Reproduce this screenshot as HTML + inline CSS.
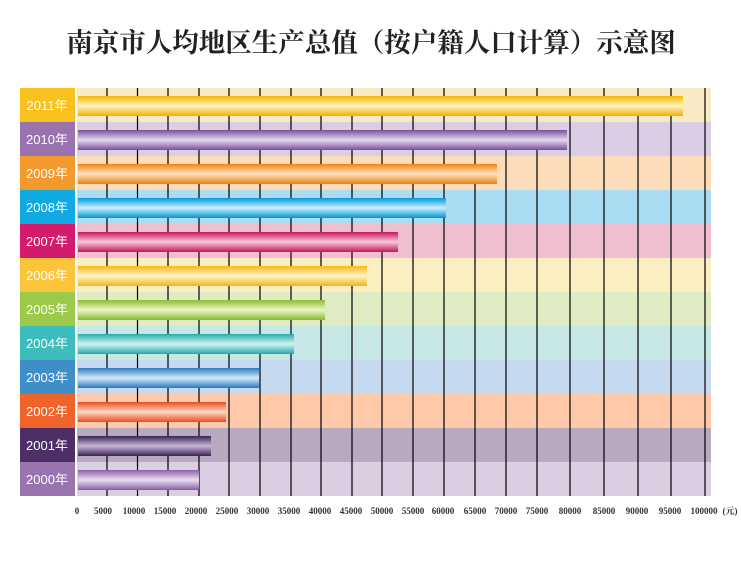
<!DOCTYPE html>
<html><head><meta charset="utf-8"><style>
body{margin:0;background:#fff;width:741px;height:583px;overflow:hidden}
</style></head><body>
<svg width="741" height="583" xmlns="http://www.w3.org/2000/svg">
<defs>
<linearGradient id="g0" x1="0" y1="0" x2="0" y2="1"><stop offset="0" stop-color="#f5b800"/><stop offset="0.5" stop-color="#fff1c0"/><stop offset="1" stop-color="#f0b000"/></linearGradient>
<linearGradient id="g1" x1="0" y1="0" x2="0" y2="1"><stop offset="0" stop-color="#7c4f98"/><stop offset="0.5" stop-color="#e6d8ef"/><stop offset="1" stop-color="#7a4e96"/></linearGradient>
<linearGradient id="g2" x1="0" y1="0" x2="0" y2="1"><stop offset="0" stop-color="#ee8412"/><stop offset="0.5" stop-color="#ffe2c0"/><stop offset="1" stop-color="#ec8010"/></linearGradient>
<linearGradient id="g3" x1="0" y1="0" x2="0" y2="1"><stop offset="0" stop-color="#0099d8"/><stop offset="0.5" stop-color="#c8efff"/><stop offset="1" stop-color="#0096d4"/></linearGradient>
<linearGradient id="g4" x1="0" y1="0" x2="0" y2="1"><stop offset="0" stop-color="#c8145e"/><stop offset="0.5" stop-color="#f8c8da"/><stop offset="1" stop-color="#c6125c"/></linearGradient>
<linearGradient id="g5" x1="0" y1="0" x2="0" y2="1"><stop offset="0" stop-color="#f7b81a"/><stop offset="0.5" stop-color="#fff3c8"/><stop offset="1" stop-color="#f5b518"/></linearGradient>
<linearGradient id="g6" x1="0" y1="0" x2="0" y2="1"><stop offset="0" stop-color="#8cbc30"/><stop offset="0.5" stop-color="#eaf6c8"/><stop offset="1" stop-color="#88b82c"/></linearGradient>
<linearGradient id="g7" x1="0" y1="0" x2="0" y2="1"><stop offset="0" stop-color="#22acad"/><stop offset="0.5" stop-color="#d2f4f2"/><stop offset="1" stop-color="#20a8a8"/></linearGradient>
<linearGradient id="g8" x1="0" y1="0" x2="0" y2="1"><stop offset="0" stop-color="#2a7cc0"/><stop offset="0.5" stop-color="#d4e8fa"/><stop offset="1" stop-color="#2878bc"/></linearGradient>
<linearGradient id="g9" x1="0" y1="0" x2="0" y2="1"><stop offset="0" stop-color="#e85020"/><stop offset="0.5" stop-color="#ffd8c4"/><stop offset="1" stop-color="#e44c1e"/></linearGradient>
<linearGradient id="g10" x1="0" y1="0" x2="0" y2="1"><stop offset="0" stop-color="#3e2258"/><stop offset="0.5" stop-color="#c8b8d6"/><stop offset="1" stop-color="#3c2056"/></linearGradient>
<linearGradient id="g11" x1="0" y1="0" x2="0" y2="1"><stop offset="0" stop-color="#8a62a4"/><stop offset="0.5" stop-color="#eadff2"/><stop offset="1" stop-color="#865ea0"/></linearGradient>
</defs>
<text x="371" y="52" text-anchor="middle" font-family="'Liberation Serif','Noto Serif CJK SC',serif" font-weight="bold" font-size="26.5" fill="#222">南京市人均地区生产总值（按户籍人口计算）示意图</text>
<g font-family="'Liberation Sans','Noto Sans CJK SC',sans-serif" font-size="13" fill="#fff">
<rect x="20" y="88" width="55" height="34" fill="#f9c11d"/><rect x="77" y="88" width="634" height="34" fill="#f8eac3"/>
<rect x="20" y="122" width="55" height="34" fill="#9b72b0"/><rect x="77" y="122" width="634" height="34" fill="#dccde6"/>
<rect x="20" y="156" width="55" height="34" fill="#f39a2f"/><rect x="77" y="156" width="634" height="34" fill="#fddcb9"/>
<rect x="20" y="190" width="55" height="34" fill="#10a9e2"/><rect x="77" y="190" width="634" height="34" fill="#aadcf3"/>
<rect x="20" y="224" width="55" height="34" fill="#d41a6d"/><rect x="77" y="224" width="634" height="34" fill="#f0bed0"/>
<rect x="20" y="258" width="55" height="34" fill="#fbc43a"/><rect x="77" y="258" width="634" height="34" fill="#fbeec0"/>
<rect x="20" y="292" width="55" height="34" fill="#9cc94a"/><rect x="77" y="292" width="634" height="34" fill="#e0ebc3"/>
<rect x="20" y="326" width="55" height="34" fill="#3dbcbd"/><rect x="77" y="326" width="634" height="34" fill="#c7e7e6"/>
<rect x="20" y="360" width="55" height="34" fill="#3f8ec8"/><rect x="77" y="360" width="634" height="34" fill="#c6daef"/>
<rect x="20" y="394" width="55" height="34" fill="#f0632b"/><rect x="77" y="394" width="634" height="34" fill="#fdc9a9"/>
<rect x="20" y="428" width="55" height="34" fill="#4d2e66"/><rect x="77" y="428" width="634" height="34" fill="#b8a8c0"/>
<rect x="20" y="462" width="55" height="34" fill="#9a74b0"/><rect x="77" y="462" width="634" height="34" fill="#dacfe2"/>
<g stroke="#000" stroke-width="1.2">
<line x1="107" y1="88" x2="107" y2="496"/><line x1="137.5" y1="88" x2="137.5" y2="496"/><line x1="168" y1="88" x2="168" y2="496"/><line x1="199" y1="88" x2="199" y2="496"/><line x1="229" y1="88" x2="229" y2="496"/><line x1="260" y1="88" x2="260" y2="496"/><line x1="291" y1="88" x2="291" y2="496"/><line x1="321" y1="88" x2="321" y2="496"/><line x1="352" y1="88" x2="352" y2="496"/><line x1="382" y1="88" x2="382" y2="496"/><line x1="413" y1="88" x2="413" y2="496"/><line x1="444" y1="88" x2="444" y2="496"/><line x1="475" y1="88" x2="475" y2="496"/><line x1="506" y1="88" x2="506" y2="496"/><line x1="537" y1="88" x2="537" y2="496"/><line x1="570" y1="88" x2="570" y2="496"/><line x1="604" y1="88" x2="604" y2="496"/><line x1="638" y1="88" x2="638" y2="496"/><line x1="671" y1="88" x2="671" y2="496"/><line x1="705" y1="88" x2="705" y2="496"/>
</g>
<rect x="78" y="96" width="605" height="20" fill="url(#g0)"/>
<rect x="78" y="130" width="489" height="20" fill="url(#g1)"/>
<rect x="78" y="164" width="419" height="20" fill="url(#g2)"/>
<rect x="78" y="198" width="368" height="20" fill="url(#g3)"/>
<rect x="78" y="232" width="320" height="20" fill="url(#g4)"/>
<rect x="78" y="266" width="289" height="20" fill="url(#g5)"/>
<rect x="78" y="300" width="247" height="20" fill="url(#g6)"/>
<rect x="78" y="334" width="216" height="20" fill="url(#g7)"/>
<rect x="78" y="368" width="181" height="20" fill="url(#g8)"/>
<rect x="78" y="402" width="148" height="20" fill="url(#g9)"/>
<rect x="78" y="436" width="133" height="20" fill="url(#g10)"/>
<rect x="78" y="470" width="121" height="20" fill="url(#g11)"/>
<g text-anchor="middle">
<text x="47" y="110">2011年</text><text x="47" y="144">2010年</text><text x="47" y="178">2009年</text><text x="47" y="212">2008年</text><text x="47" y="246">2007年</text><text x="47" y="280">2006年</text><text x="47" y="314">2005年</text><text x="47" y="348">2004年</text><text x="47" y="382">2003年</text><text x="47" y="416">2002年</text><text x="47" y="450">2001年</text><text x="47" y="484">2000年</text>
</g>
</g>
<g font-family="'Liberation Serif','Noto Serif CJK SC',serif" font-weight="bold" font-size="9" fill="#333" text-anchor="middle">
<text x="77" y="514">0</text><text x="103" y="514">5000</text><text x="134" y="514">10000</text><text x="165" y="514">15000</text><text x="196" y="514">20000</text><text x="227" y="514">25000</text><text x="258" y="514">30000</text><text x="289" y="514">35000</text><text x="320" y="514">40000</text><text x="351" y="514">45000</text><text x="382" y="514">50000</text><text x="413" y="514">55000</text><text x="443" y="514">60000</text><text x="475" y="514">65000</text><text x="506" y="514">70000</text><text x="537" y="514">75000</text><text x="570" y="514">80000</text><text x="604" y="514">85000</text><text x="637" y="514">90000</text><text x="670" y="514">95000</text><text x="704" y="514">100000</text><text x="730" y="514">(元)</text>
</g>
</svg>
</body></html>
